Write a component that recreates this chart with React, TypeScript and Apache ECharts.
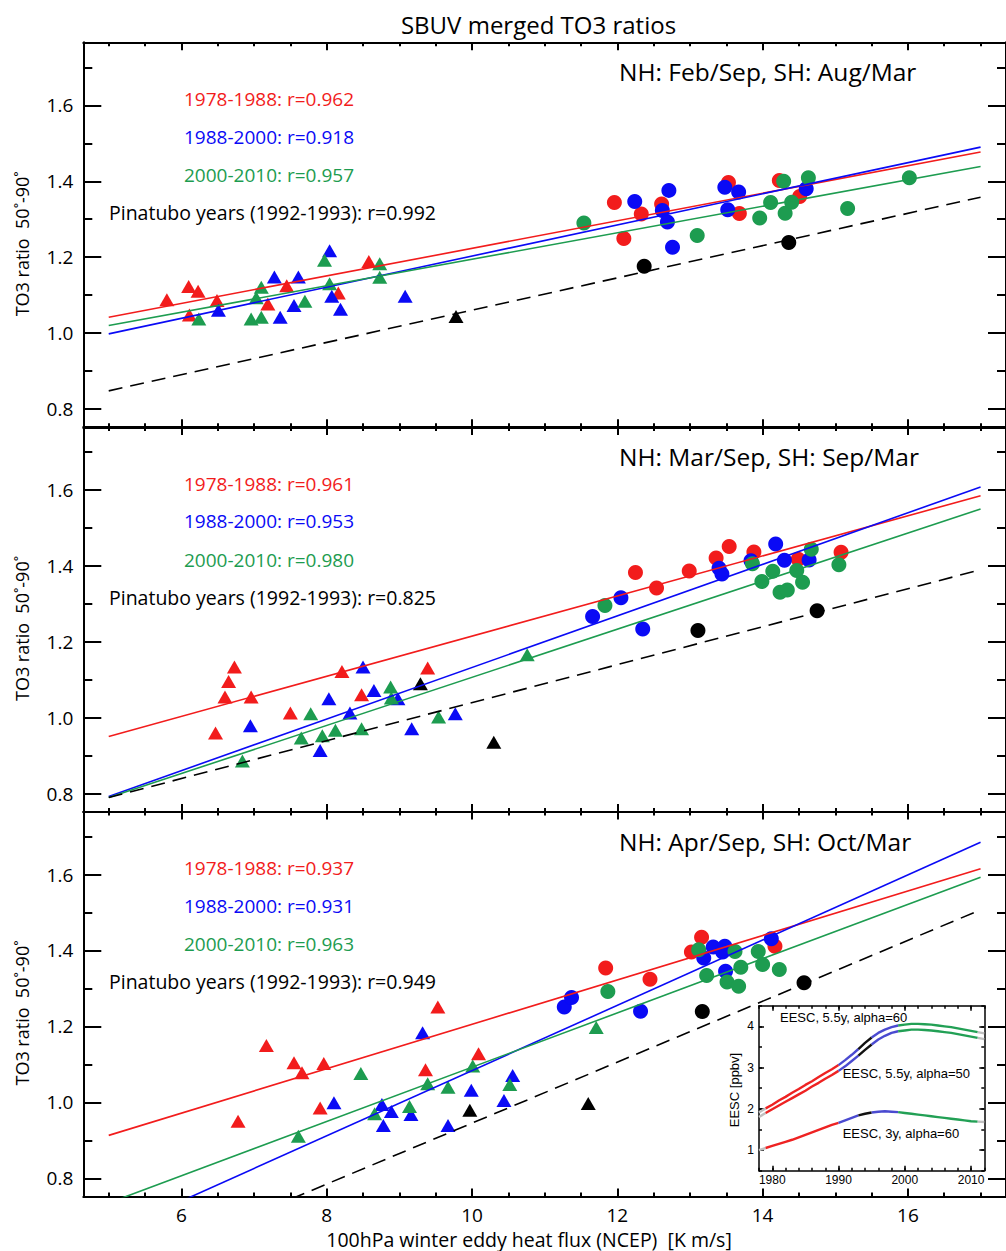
import React, { useEffect, useRef } from "react";
import * as echarts from "echarts";

// ---------- colours ----------
const RED = "#f21c1c";
const BLUE = "#0a0af5";
const GREEN = "#1d9c50";
const BLACK = "#000000";

// ---------- axis ticks ----------
const xMajorTicks = [6, 8, 10, 12, 14, 16];
const xMinorTicks = [5, 5.5, 6, 6.5, 7, 7.5, 8, 8.5, 9, 9.5, 10, 10.5, 11, 11.5, 12, 12.5, 13, 13.5, 14, 14.5, 15, 15.5, 16, 16.5, 17];
const yMajorTicks = [0.8, 1.0, 1.2, 1.4, 1.6];
const yMinorTicks = [0.8, 0.9, 1.0, 1.1, 1.2, 1.3, 1.4, 1.5, 1.6, 1.7];

const insetXMajor = [1980, 1990, 2000, 2010];
const insetXMinor = [1978, 1980, 1982, 1984, 1986, 1988, 1990, 1992, 1994, 1996, 1998, 2000, 2002, 2004, 2006, 2008, 2010, 2012];
const insetYMajor = [1, 2, 3, 4];
const insetYMinor = [0.5, 1, 1.5, 2, 2.5, 3, 3.5, 4, 4.5];

// ---------- texts ----------
const chartTitle = "SBUV merged TO3 ratios";
const xAxisTitle = "100hPa winter eddy heat flux (NCEP)  [K m/s]";
const yAxisTitle = "TO3 ratio  50˚-90˚";
const panelHeadings = ["NH: Feb/Sep, SH: Aug/Mar", "NH: Mar/Sep, SH: Sep/Mar", "NH: Apr/Sep, SH: Oct/Mar"];
const p1Labels = ["1978-1988: r=0.962", "1988-2000: r=0.918", "2000-2010: r=0.957", "Pinatubo years (1992-1993): r=0.992"];
const p2Labels = ["1978-1988: r=0.961", "1988-2000: r=0.953", "2000-2010: r=0.980", "Pinatubo years (1992-1993): r=0.825"];
const p3Labels = ["1978-1988: r=0.937", "1988-2000: r=0.931", "2000-2010: r=0.963", "Pinatubo years (1992-1993): r=0.949"];

// ---------- regression lines (values at x = 5 and x = 17) ----------
const fitX = [5, 17];
const p1RedFit = [1.042, 1.477];
const p1BlueFit = [0.998, 1.49];
const p1GreenFit = [1.02, 1.439];
const p1BlackFit = [0.848, 1.358];
const p2RedFit = [0.951, 1.585];
const p2BlueFit = [0.793, 1.608];
const p2GreenFit = [0.79, 1.55];
const p2BlackFit = [0.79, 1.39];
const p3RedFit = [0.913, 1.615];
const p3BlueFit = [0.654, 1.685];
const p3GreenFit = [0.735, 1.593];
const p3BlackFit = [0.544, 1.507];

// ---------- panel 1 points ----------
const p1RedTri = [[5.8, 1.088], [6.1, 1.123], [6.23, 1.11], [6.49, 1.086], [6.11, 1.048], [7.19, 1.077], [7.45, 1.125], [8.58, 1.189], [8.16, 1.106]];
const p1BlueTri = [[6.51, 1.06], [7.28, 1.148], [7.61, 1.148], [7.55, 1.073], [7.36, 1.042], [8.04, 1.217], [8.07, 1.097], [8.19, 1.063], [9.08, 1.097]];
const p1GreenTri = [[6.24, 1.037], [6.96, 1.037], [7.1, 1.042], [7.1, 1.121], [7.03, 1.093], [7.7, 1.084], [7.97, 1.192], [8.04, 1.13], [8.73, 1.183], [8.73, 1.147]];
const p1BlackTri = [[9.78, 1.044]];
const p1RedCirc = [[11.96, 1.344], [12.09, 1.249], [12.33, 1.314], [12.61, 1.34], [13.53, 1.397], [13.68, 1.315], [14.23, 1.402], [14.51, 1.36]];
const p1BlueCirc = [[12.24, 1.347], [12.62, 1.323], [12.69, 1.293], [12.71, 1.376], [12.76, 1.226], [13.48, 1.384], [13.67, 1.372], [13.52, 1.325], [14.6, 1.38]];
const p1GreenCirc = [[11.54, 1.29], [13.1, 1.257], [13.96, 1.303], [14.11, 1.344], [14.29, 1.4], [14.31, 1.316], [14.4, 1.345], [14.63, 1.409], [15.17, 1.328], [16.02, 1.409]];
const p1BlackCirc = [[12.37, 1.176], [14.36, 1.239]];

// ---------- panel 2 points ----------
const p2RedTri = [[6.47, 0.96], [6.6, 1.055], [6.65, 1.096], [6.73, 1.134], [6.96, 1.055], [7.5, 1.013], [8.21, 1.122], [8.48, 1.061], [9.39, 1.131]];
const p2BlueTri = [[6.95, 0.979], [7.91, 0.914], [8.03, 1.05], [8.32, 1.013], [8.5, 1.134], [8.65, 1.072], [8.98, 1.05], [9.17, 0.971], [9.77, 1.011]];
const p2GreenTri = [[6.84, 0.886], [7.65, 0.947], [7.78, 1.011], [7.94, 0.953], [8.12, 0.967], [8.48, 0.971], [8.88, 1.081], [8.89, 1.052], [9.54, 1.002], [10.76, 1.166]];
const p2BlackTri = [[9.29, 1.09], [10.3, 0.936]];
const p2RedCirc = [[12.25, 1.383], [12.54, 1.342], [12.99, 1.387], [13.36, 1.421], [13.54, 1.451], [13.88, 1.437], [14.49, 1.418], [15.08, 1.436]];
const p2BlueCirc = [[11.66, 1.267], [12.05, 1.316], [12.35, 1.234], [13.4, 1.394], [13.44, 1.379], [13.84, 1.414], [14.18, 1.458], [14.3, 1.415], [14.64, 1.416]];
const p2GreenCirc = [[11.83, 1.296], [13.86, 1.406], [13.99, 1.359], [14.14, 1.386], [14.24, 1.331], [14.34, 1.337], [14.47, 1.388], [14.55, 1.357], [14.67, 1.444], [15.05, 1.403]];
const p2BlackCirc = [[13.11, 1.23], [14.75, 1.282]];

// ---------- panel 3 points ----------
const p3RedTri = [[6.78, 0.95], [7.17, 1.15], [7.55, 1.104], [7.66, 1.078], [7.96, 1.102], [7.91, 0.985], [9.36, 1.086], [9.53, 1.251], [10.09, 1.128]];
const p3BlueTri = [[8.1, 0.999], [9.32, 1.183], [8.76, 0.994], [8.89, 0.976], [8.78, 0.939], [9.16, 0.968], [9.67, 0.939], [9.99, 1.032], [10.44, 1.005], [10.56, 1.071]];
const p3GreenTri = [[7.61, 0.911], [8.47, 1.076], [8.66, 0.97], [9.14, 0.989], [9.39, 1.049], [9.67, 1.04], [10.01, 1.096], [10.52, 1.047], [11.71, 1.197]];
const p3BlackTri = [[9.97, 0.979], [11.6, 0.997]];
const p3RedCirc = [[11.84, 1.354], [12.45, 1.324], [13.02, 1.396], [13.16, 1.435], [14.17, 1.411]];
const p3BlueCirc = [[11.27, 1.251], [11.37, 1.276], [12.32, 1.24], [13.19, 1.38], [13.32, 1.409], [13.48, 1.411], [13.45, 1.396], [13.49, 1.345], [14.12, 1.431]];
const p3GreenCirc = [[11.87, 1.292], [13.12, 1.402], [13.23, 1.334], [13.51, 1.317], [13.62, 1.397], [13.67, 1.306], [13.7, 1.356], [13.94, 1.397], [14.0, 1.363], [14.23, 1.35]];
const p3BlackCirc = [[13.17, 1.239], [14.57, 1.315]];

// ---------- inset EESC curves ----------
const eescYears = [1978, 1979, 1980, 1981, 1982, 1983, 1984, 1985, 1986, 1987, 1988, 1989, 1990, 1991, 1992, 1993, 1994, 1995, 1996, 1997, 1998, 1999, 2000, 2001, 2002, 2003, 2004, 2005, 2006, 2007, 2008, 2009, 2010, 2011, 2012];
const eescA = [1.91, 2.01, 2.1, 2.2, 2.29, 2.39, 2.48, 2.58, 2.67, 2.77, 2.87, 2.96, 3.06, 3.18, 3.31, 3.45, 3.6, 3.73, 3.84, 3.92, 3.98, 4.02, 4.04, 4.06, 4.06, 4.05, 4.04, 4.02, 4.0, 3.98, 3.95, 3.92, 3.89, 3.86, 3.83];
const eescB = [1.8, 1.9, 1.99, 2.08, 2.17, 2.26, 2.35, 2.44, 2.54, 2.63, 2.73, 2.82, 2.92, 3.03, 3.16, 3.29, 3.43, 3.56, 3.68, 3.77, 3.84, 3.88, 3.9, 3.92, 3.92, 3.91, 3.9, 3.88, 3.86, 3.84, 3.81, 3.78, 3.75, 3.72, 3.69];
const eescC = [1.0, 1.05, 1.1, 1.15, 1.2, 1.25, 1.31, 1.37, 1.43, 1.49, 1.55, 1.61, 1.66, 1.72, 1.78, 1.84, 1.88, 1.91, 1.93, 1.94, 1.93, 1.92, 1.9, 1.88, 1.86, 1.84, 1.82, 1.8, 1.78, 1.76, 1.74, 1.72, 1.7, 1.69, 1.68];
const eescSegments: [number, number, string][] = [
  [1978, 1979, "#c0c0c0"],
  [1979, 1990, "#ee2222"],
  [1990, 1993, "#4a4ad0"],
  [1993, 1995, "#111111"],
  [1995, 1999, "#4a4ad0"],
  [1999, 2011, "#22a055"],
  [2011, 2012, "#c0c0c0"],
];
const insetLabels = ["EESC, 5.5y, alpha=60", "EESC, 5.5y, alpha=50", "EESC, 3y, alpha=60"];

// ---------- layout ----------
const FONT = '"Open Sans", "Noto Sans", sans-serif';
const ARIAL = '"Liberation Sans", Arial, sans-serif';
const GRID_LEFT = 83.3;
const X_MIN = 4.65;
const X_MAX = 17.35;
const X_SCALE = 73.2;
const Y_MIN = 0.752;
const Y_MAX = 1.766;
const PANEL_TOPS = [42.3, 427, 811.5];
const PANEL_H = 385;
const INSET = { left: 759, top: 1005.7, width: 225.3, height: 165 };

function makeAxes(gridIndex: number, min: number, max: number, major: number[], minor: number[], majorLen: number, minorLen: number, lw: number, label: any, z: number, lowPos: string, highPos: string) {
  const base: any = { type: "value", gridIndex, min, max, splitLine: { show: false }, z };
  const tick = (len: number, vals: number[]) => ({ show: true, inside: true, length: len, customValues: vals, lineStyle: { color: "#000", width: lw } });
  const line = { show: true, onZero: false, lineStyle: { color: "#000", width: lw } };
  return [
    { ...base, position: lowPos, axisLine: line, axisTick: tick(majorLen, major), axisLabel: label ? { ...label, customValues: major } : { show: false } },
    { ...base, position: lowPos, axisLine: { show: false, onZero: false }, axisTick: tick(minorLen, minor), axisLabel: { show: false } },
    { ...base, position: highPos, axisLine: line, axisTick: tick(majorLen, major), axisLabel: { show: false } },
    { ...base, position: highPos, axisLine: { show: false, onZero: false }, axisTick: tick(minorLen, minor), axisLabel: { show: false } },
  ];
}

function buildOption() {
  const panels = [
    { labels: p1Labels, tri: [p1RedTri, p1BlueTri, p1GreenTri, p1BlackTri], circ: [p1RedCirc, p1BlueCirc, p1GreenCirc, p1BlackCirc], fits: [p1RedFit, p1BlueFit, p1GreenFit, p1BlackFit] },
    { labels: p2Labels, tri: [p2RedTri, p2BlueTri, p2GreenTri, p2BlackTri], circ: [p2RedCirc, p2BlueCirc, p2GreenCirc, p2BlackCirc], fits: [p2RedFit, p2BlueFit, p2GreenFit, p2BlackFit] },
    { labels: p3Labels, tri: [p3RedTri, p3BlueTri, p3GreenTri, p3BlackTri], circ: [p3RedCirc, p3BlueCirc, p3GreenCirc, p3BlackCirc], fits: [p3RedFit, p3BlueFit, p3GreenFit, p3BlackFit] },
  ];
  const colors = [RED, BLUE, GREEN, BLACK];

  const grid: any[] = [];
  const xAxis: any[] = [];
  const yAxis: any[] = [];
  const series: any[] = [];
  const graphic: any[] = [];

  const mainLabel = { show: true, color: "#000", fontFamily: FONT, fontSize: 19, lineHeight: 19 };

  panels.forEach((p, i) => {
    grid.push({ left: GRID_LEFT, top: PANEL_TOPS[i], width: (X_MAX - X_MIN) * X_SCALE, height: PANEL_H, containLabel: false });
    xAxis.push(...makeAxes(i, X_MIN, X_MAX, xMajorTicks, xMinorTicks, 8, 4, 2,
      i === 2 ? { ...mainLabel, margin: 9, formatter: (v: number) => String(v) } : null, 0, "bottom", "top"));
    yAxis.push(...makeAxes(i, Y_MIN, Y_MAX, yMajorTicks, yMinorTicks, 18, 9, 2,
      { ...mainLabel, margin: 10, formatter: (v: number) => v.toFixed(1) }, 0, "left", "right"));
    const xi = i * 4;
    // scatter points
    colors.forEach((c, k) => {
      series.push({ type: "scatter", xAxisIndex: xi, yAxisIndex: xi, data: p.tri[k], symbol: "triangle", symbolSize: [15, 13], itemStyle: { color: c, opacity: 1 }, z: 2 });
      series.push({ type: "scatter", xAxisIndex: xi, yAxisIndex: xi, data: p.circ[k], symbol: "circle", symbolSize: 15, itemStyle: { color: c, opacity: 1 }, z: 2 });
    });
    // regression lines
    colors.forEach((c, k) => {
      series.push({
        type: "line", xAxisIndex: xi, yAxisIndex: xi, clip: true, symbol: "none",
        data: fitX.map((x, j) => [x, p.fits[k][j]]),
        lineStyle: { color: c, width: 1.6, type: k === 3 ? [14, 8] : "solid" }, z: 3,
      });
    });
    // texts
    const top = PANEL_TOPS[i];
    graphic.push({ type: "text", x: 619, y: top + 29.5, z: 30, style: { text: panelHeadings[i], font: `24.5px ${FONT}`, fill: "#000", verticalAlign: "middle", textVerticalAlign: "middle" } });
    const offs = [56.5, 94.3, 132.5, 170.3];
    p.labels.forEach((t, k) => {
      graphic.push({ type: "text", x: k === 3 ? 109 : 184, y: top + offs[k], z: 30, style: { text: t, font: `${k === 3 ? 19.5 : 19}px ${FONT}`, fill: colors[k], verticalAlign: "middle", textVerticalAlign: "middle" } });
    });
    graphic.push({ type: "text", x: 22, y: top + PANEL_H / 2 + 9, rotation: Math.PI / 2, z: 30, style: { text: yAxisTitle, font: `18px ${FONT}`, fill: "#000", align: "center", textAlign: "center", verticalAlign: "middle", textVerticalAlign: "middle" } });
  });

  // inset
  grid.push({ left: INSET.left, top: INSET.top, width: INSET.width, height: INSET.height, show: true, backgroundColor: "#ffffff", borderWidth: 0, z: 10 });
  const insetLabel = { show: true, color: "#000", fontFamily: ARIAL, fontSize: 12, formatter: (v: number) => String(v) };
  xAxis.push(...makeAxes(3, 1978, 2012, insetXMajor, insetXMinor, 5, 3, 1.5, { ...insetLabel, margin: 3 }, 11, "bottom", "top"));
  yAxis.push(...makeAxes(3, 0.5, 4.5, insetYMajor, insetYMinor, 5, 3, 1.5, { ...insetLabel, margin: 5 }, 11, "left", "right"));
  [eescA, eescB, eescC].forEach((vals) => {
    eescSegments.forEach(([a, b, c]) => {
      const data = eescYears.map((y, j) => [y, vals[j]]).filter((d) => d[0] >= a && d[0] <= b);
      series.push({ type: "line", xAxisIndex: 12, yAxisIndex: 12, data, symbol: "none", smooth: false, lineStyle: { color: c, width: 2.4 }, z: 12 });
    });
  });
  const inPos = [[780, 1017.7], [842.7, 1073], [842.7, 1133.3]];
  insetLabels.forEach((t, k) => {
    graphic.push({ type: "text", x: inPos[k][0], y: inPos[k][1], z: 40, style: { text: t, font: `13px ${ARIAL}`, fill: "#000", verticalAlign: "middle", textVerticalAlign: "middle" } });
  });
  graphic.push({ type: "text", x: 734, y: 1090, rotation: Math.PI / 2, z: 40, style: { text: "EESC [ppbv]", font: `13px ${ARIAL}`, fill: "#000", align: "center", textAlign: "center", verticalAlign: "middle", textVerticalAlign: "middle" } });

  // global titles
  graphic.push({ type: "text", x: 538.5, y: 24, z: 30, style: { text: chartTitle, font: `24px ${FONT}`, fill: "#000", align: "center", textAlign: "center", verticalAlign: "middle", textVerticalAlign: "middle" } });
  graphic.push({ type: "text", x: 529, y: 1239, z: 30, style: { text: xAxisTitle, font: `19.5px ${FONT}`, lineHeight: 19, fill: "#000", align: "center", textAlign: "center", verticalAlign: "middle", textVerticalAlign: "middle" } });

  return { animation: false, backgroundColor: "#ffffff", grid, xAxis, yAxis, series, graphic };
}

export default function App() {
  const ref = useRef<HTMLDivElement>(null);
  useEffect(() => {
    if (!ref.current) return;
    const chart = echarts.init(ref.current, undefined, { renderer: "svg" });
    chart.setOption(buildOption() as any);
    return () => chart.dispose();
  }, []);
  return <div ref={ref} style={{ position: "fixed", left: 0, top: 0, width: 1006, height: 1251, background: "#fff" }} />;
}
